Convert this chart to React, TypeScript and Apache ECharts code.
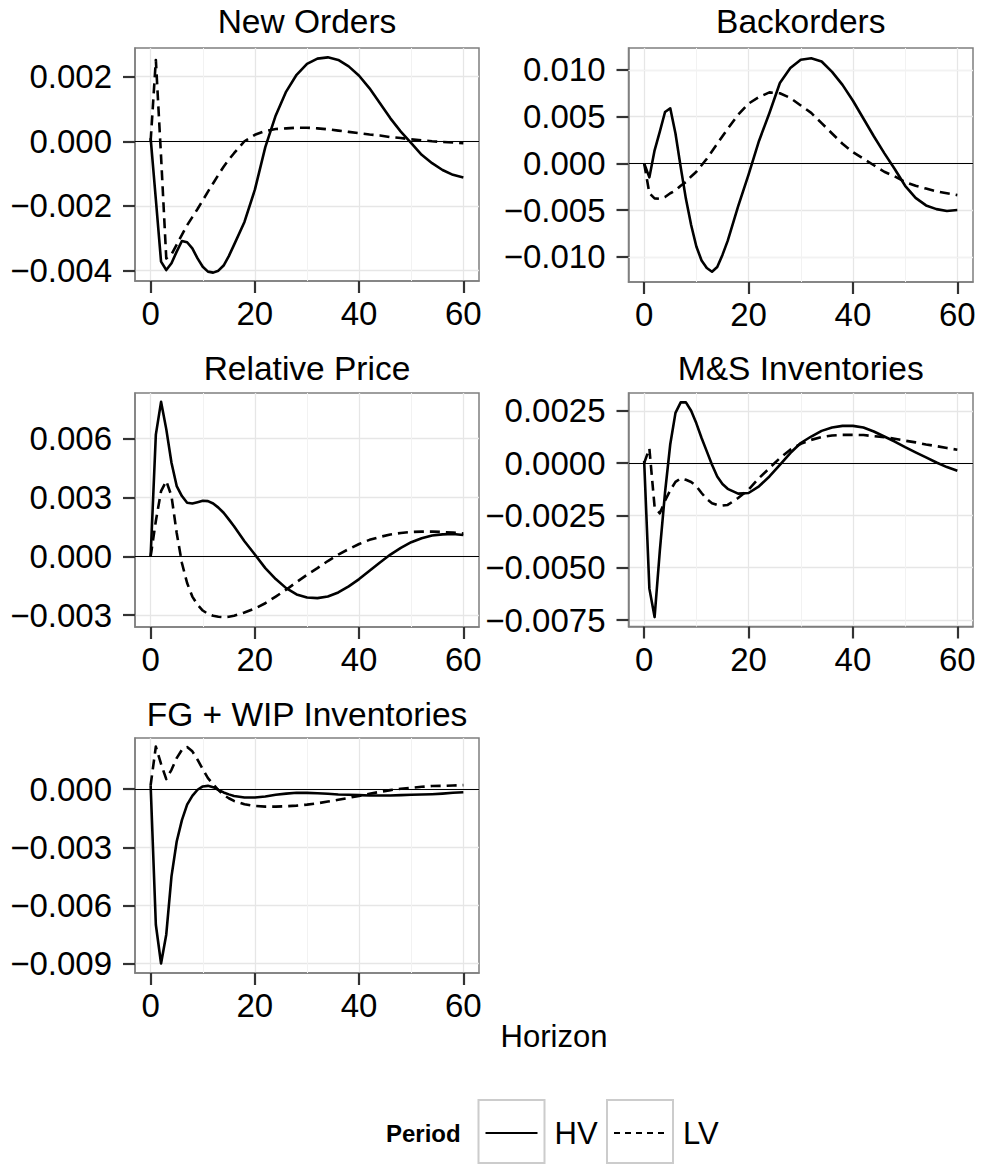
import React, { useEffect, useRef } from "react";
import * as echarts from "echarts";

// Horizon values (x)
const horizon = [0, 1, 2, 3, 4, 5, 6, 7, 8, 9, 10, 11, 12, 13, 14, 15, 16, 18, 20, 22, 24, 26, 28, 30, 32, 34, 36, 38, 40, 42, 44, 46, 48, 50, 52, 54, 56, 58, 60];

const newOrdersHV = [0.0001, -0.0018, -0.00373, -0.00399, -0.00378, -0.00342, -0.00309, -0.00313, -0.00332, -0.00363, -0.00389, -0.00404, -0.00407, -0.00401, -0.00385, -0.00356, -0.00321, -0.0025, -0.0015, -0.00018, 0.0008, 0.00154, 0.00206, 0.0024, 0.00256, 0.0026, 0.00252, 0.00232, 0.00203, 0.00164, 0.00118, 0.00071, 0.0003, -0.00006, -0.00042, -0.00068, -0.00089, -0.00104, -0.00112];
const newOrdersLV = [0, 0.00252, -0.00047, -0.00363, -0.0035, -0.0032, -0.0029, -0.0026, -0.00235, -0.0021, -0.00183, -0.00156, -0.0013, -0.00104, -0.00079, -0.00057, -0.00037, 0.0, 0.0002, 0.00032, 0.00038, 0.0004, 0.00042, 0.00042, 0.0004, 0.00037, 0.00033, 0.00029, 0.00025, 0.00021, 0.00018, 0.00013, 0.0001, 0.00006, 0.00003, 0, -0.00002, -0.00004, -0.00006];

const backordersHV = [0, -0.0015, 0.0014, 0.0034, 0.0055, 0.0059, 0.0032, -0.0004, -0.0038, -0.0066, -0.0089, -0.0104, -0.0112, -0.0116, -0.0111, -0.0098, -0.0083, -0.0046, -0.0012, 0.0024, 0.0054, 0.0086, 0.0102, 0.0111, 0.01125, 0.0109, 0.0098, 0.0084, 0.0067, 0.0048, 0.0029, 0.0011, -0.0006, -0.0024, -0.0037, -0.0045, -0.0049, -0.0051, -0.005];
const backordersLV = [0, -0.0032, -0.00375, -0.0038, -0.0036, -0.0032, -0.0029, -0.0024, -0.002, -0.0014, -0.0009, -0.0002, 0.0005, 0.0013, 0.0021, 0.0029, 0.0037, 0.0052, 0.0064, 0.0071, 0.0076, 0.0075, 0.007, 0.0062, 0.0054, 0.0043, 0.0032, 0.0021, 0.0012, 0.0005, -0.0002, -0.0009, -0.0014, -0.002, -0.0024, -0.0027, -0.003, -0.0032, -0.0034];

const relPriceHV = [0, 0.0062, 0.00787, 0.00648, 0.00477, 0.00358, 0.00307, 0.00273, 0.00269, 0.00276, 0.00283, 0.00281, 0.00269, 0.00248, 0.00222, 0.00188, 0.00153, 0.00077, 0.00009, -0.0006, -0.00116, -0.00162, -0.00194, -0.0021, -0.00213, -0.00205, -0.00184, -0.00153, -0.00116, -0.00073, -0.00031, 0.00009, 0.00043, 0.00072, 0.00092, 0.00106, 0.00112, 0.00114, 0.00109];
const relPriceLV = [0, 0.0018, 0.00332, 0.00384, 0.00307, 0.00119, -0.00034, -0.00136, -0.00205, -0.00247, -0.00276, -0.00293, -0.00303, -0.00308, -0.0031, -0.00308, -0.00303, -0.00286, -0.00266, -0.00239, -0.00205, -0.0017, -0.00131, -0.00094, -0.0006, -0.00024, 0.00009, 0.00037, 0.00063, 0.00084, 0.00099, 0.00111, 0.00119, 0.00124, 0.00126, 0.00126, 0.00124, 0.00121, 0.00116];

const msInvHV = [0.0001, -0.006, -0.00736, -0.0042, -0.0014, 0.0009, 0.0024, 0.0029, 0.0029, 0.0025, 0.0019, 0.0012, 0.00056, -0.00008, -0.00064, -0.001, -0.00123, -0.00146, -0.00143, -0.00111, -0.00064, -0.00008, 0.00048, 0.00096, 0.00127, 0.00154, 0.0017, 0.00178, 0.00178, 0.0017, 0.00151, 0.00127, 0.00103, 0.00076, 0.00051, 0.00027, 0.00003, -0.00019, -0.00037];
const msInvLV = [0, 0.0007, -0.0021, -0.0024, -0.0018, -0.0013, -0.0009, -0.00073, -0.0008, -0.0009, -0.0011, -0.00143, -0.00172, -0.00192, -0.002, -0.00203, -0.002, -0.00167, -0.00127, -0.00072, -0.00024, 0.00024, 0.00064, 0.00092, 0.00111, 0.00124, 0.00132, 0.00135, 0.00135, 0.00134, 0.00129, 0.00124, 0.00116, 0.00107, 0.00099, 0.00089, 0.00081, 0.00072, 0.00064];

const fgWipHV = [0.0002, -0.007, -0.009, -0.0075, -0.0045, -0.0027, -0.0016, -0.0008, -0.00035, -0.00003, 0.00014, 0.00017, 0.0001, -0.00004, -0.00017, -0.00027, -0.00035, -0.00043, -0.00043, -0.00038, -0.00029, -0.00023, -0.00019, -0.00019, -0.00021, -0.00024, -0.00028, -0.00029, -0.00031, -0.00033, -0.00033, -0.00033, -0.00031, -0.00029, -0.00028, -0.00026, -0.00023, -0.00019, -0.00016];
const fgWipLV = [0.0002, 0.0022, 0.0013, 0.00052, 0.001, 0.0016, 0.00203, 0.00217, 0.00195, 0.00152, 0.00103, 0.00057, 0.00025, -0.00005, -0.0003, -0.00047, -0.00061, -0.00078, -0.00087, -0.0009, -0.0009, -0.00088, -0.00085, -0.0008, -0.00073, -0.00064, -0.00055, -0.00045, -0.00035, -0.00024, -0.00014, -0.00005, 0.00002, 0.00007, 0.00012, 0.00016, 0.00017, 0.00019, 0.00021];

const panelTitles = ["New Orders", "Backorders", "Relative Price", "M&S Inventories", "FG + WIP Inventories"];
const xTicks = [0, 20, 40, 60];
const xMinor = [10, 30, 50];
const yTicks = [
  [-0.004, -0.002, 0, 0.002],
  [-0.01, -0.005, 0, 0.005, 0.01],
  [-0.003, 0, 0.003, 0.006],
  [-0.0075, -0.005, -0.0025, 0, 0.0025],
  [-0.009, -0.006, -0.003, 0],
];
const yMinor = [
  [-0.003, -0.001, 0.001],
  [-0.0075, -0.0025, 0.0025, 0.0075],
  [-0.0015, 0.0015, 0.0045, 0.0075],
  [-0.00625, -0.00375, -0.00125, 0.00125],
  [-0.0075, -0.0045, -0.0015, 0.0015],
];
const yRanges = [
  [-0.00433, 0.00289],
  [-0.0127, 0.01235],
  [-0.0036, 0.00832],
  [-0.00781, 0.00335],
  [-0.00949, 0.00264],
];
const xRange = [-3, 63];
const yDecimals = [3, 3, 3, 4, 3];
const hvSeries = [newOrdersHV, backordersHV, relPriceHV, msInvHV, fgWipHV];
const lvSeries = [newOrdersLV, backordersLV, relPriceLV, msInvLV, fgWipLV];
const periods = ["HV", "LV"];

const FONT = "'Liberation Sans', Arial, Helvetica, sans-serif";

const grids = [
  { left: 135, top: 48, width: 344, height: 233 },
  { left: 628.5, top: 48, width: 344.5, height: 234 },
  { left: 135, top: 393, width: 344, height: 234 },
  { left: 628.5, top: 393, width: 344.5, height: 233.5 },
  { left: 135, top: 738, width: 344, height: 235 },
];
const titleY = [21, 21, 368, 368, 714];

function fmt(v: number, d: number) {
  const s = Math.abs(v).toFixed(d);
  return (v < -1e-12 ? "\u2212" : "") + s;
}

export default function App() {
  const ref = useRef<HTMLDivElement>(null);
  useEffect(() => {
    if (!ref.current) return;
    const chart = echarts.init(ref.current, undefined, { renderer: "svg" });
    const xAxis: any[] = [];
    const yAxis: any[] = [];
    const series: any[] = [];
    const graphic: any[] = [];
    grids.forEach((g, i) => {
      xAxis.push({
        type: "value",
        gridIndex: i,
        min: xRange[0],
        max: xRange[1],
        axisLine: { show: true, onZero: false, lineStyle: { color: "#7f7f7f", width: 1.5 } },
        splitLine: { show: true, lineStyle: { color: "#e6e6e6", width: 1.3 } },
        axisTick: { show: true, length: 12, customValues: xTicks, lineStyle: { color: "#333333", width: 2.2 } },
        axisLabel: { customValues: xTicks, margin: 16, fontSize: 33, color: "#000", fontFamily: FONT },
      });
      yAxis.push({
        type: "value",
        gridIndex: i,
        min: yRanges[i][0],
        max: yRanges[i][1],
        axisLine: { show: true, onZero: false, lineStyle: { color: "#7f7f7f", width: 1.5 } },
        splitLine: { show: true, lineStyle: { color: "#e6e6e6", width: 1.3 } },
        axisTick: { show: true, length: 12, customValues: yTicks[i], lineStyle: { color: "#333333", width: 2.2 } },
        axisLabel: {
          customValues: yTicks[i],
          margin: 23,
          fontSize: 33,
          color: "#000",
          fontFamily: FONT,
          formatter: (v: number) => fmt(v, yDecimals[i]),
        },
      });
      const minorStyle = { color: "#f2f2f2", width: 1, type: "solid" };
      const ml: any[] = [];
      xMinor.forEach((v) => ml.push({ xAxis: v, lineStyle: minorStyle }));
      yMinor[i].forEach((v) => ml.push({ yAxis: v, lineStyle: minorStyle }));
      ml.push({ yAxis: 0, lineStyle: { color: "#000", width: 1.2, type: "solid" } });
      series.push({
        type: "line",
        xAxisIndex: i,
        yAxisIndex: i,
        data: [[0, 0]],
        symbol: "none",
        silent: true,
        lineStyle: { opacity: 0 },
        markLine: {
          silent: true,
          z: 1,
          symbol: ["none", "none"],
          label: { show: false },
          data: ml,
        },
      });
      series.push({
        name: periods[0],
        type: "line",
        xAxisIndex: i,
        yAxisIndex: i,
        data: horizon.map((h, k) => [h, hvSeries[i][k]]),
        symbol: "none",
        z: 3,
        lineStyle: { color: "#000", width: 2.6, type: "solid", join: "round" },
      });
      series.push({
        name: periods[1],
        type: "line",
        xAxisIndex: i,
        yAxisIndex: i,
        data: horizon.map((h, k) => [h, lvSeries[i][k]]),
        symbol: "none",
        z: 3,
        lineStyle: { color: "#000", width: 2.6, type: [10, 6], join: "round" },
      });
      graphic.push({
        type: "text",
        x: g.left + g.width / 2,
        y: titleY[i],
        style: { text: panelTitles[i], fontSize: 33.5, fontFamily: FONT, fill: "#000", align: "center", verticalAlign: "middle", textAlign: "center", textVerticalAlign: "middle" },
      });
    });
    graphic.push({
      type: "text",
      x: 554,
      y: 1036,
      style: { text: "Horizon", fontSize: 31, fontFamily: FONT, fill: "#000", align: "center", verticalAlign: "middle", textAlign: "center", textVerticalAlign: "middle" },
    });
    // legend
    graphic.push({
      type: "text",
      x: 386,
      y: 1133,
      style: { text: "Period", fontSize: 24, fontWeight: "bold", fontFamily: FONT, fill: "#000", align: "left", verticalAlign: "middle", textAlign: "left", textVerticalAlign: "middle" },
    });
    const boxes = [478.5, 607];
    boxes.forEach((bx, j) => {
      graphic.push({ type: "rect", shape: { x: bx, y: 1100, width: 66, height: 63 }, style: { fill: "#fff", stroke: "#cccccc", lineWidth: 2 } });
      graphic.push({
        type: "line",
        shape: { x1: bx + 7, y1: 1133, x2: bx + 59, y2: 1133 },
        style: { stroke: "#000", lineWidth: 2.2, lineDash: j === 1 ? [6, 5] : null },
      });
      graphic.push({
        type: "text",
        x: bx + 76,
        y: 1133,
        style: { text: periods[j], fontSize: 31, fontFamily: FONT, fill: "#000", align: "left", verticalAlign: "middle", textAlign: "left", textVerticalAlign: "middle" },
      });
    });

    chart.setOption({
      animation: false,
      backgroundColor: "#ffffff",
      grid: grids.map((g) => ({ ...g, show: true, borderColor: "#7f7f7f", borderWidth: 1.5 })),
      xAxis,
      yAxis,
      series,
      graphic,
    });
    return () => chart.dispose();
  }, []);
  return <div ref={ref} style={{ position: "absolute", left: 0, top: 0, width: 982, height: 1166 }} />;
}
